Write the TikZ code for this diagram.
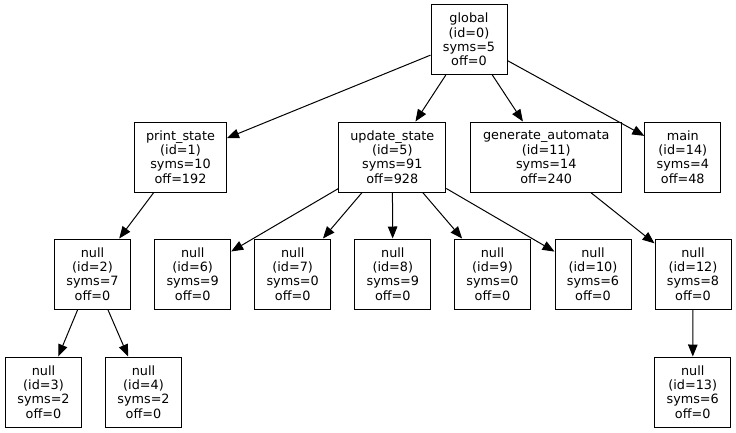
\documentclass[tikz,border=0pt]{standalone}
\usepackage{fontspec}
\setmainfont{DejaVu Sans}
\usetikzlibrary{arrows.meta}

\begin{document}
\begin{tikzpicture}[x=1pt, y=-1pt,
  symbox/.style={draw, line width=1pt, inner sep=0pt, minimum width=76pt,
    minimum height=70pt, align=center, font=\fontsize{12.8}{14.4}\selectfont},
  edge/.style={-{Triangle[length=12pt, width=9.5pt]}, line width=1pt}]

  \useasboundingbox (0,0) rectangle (736,432);

  % Global scope
  \node[symbox] (global) at (469,39.5) {global\\(id=0)\\syms=5\\off=0};

  % Function scopes
  \node[symbox, minimum width=92pt] (printstate) at (180.5,157) {print\_state\\(id=1)\\syms=10\\off=192};
  \node[symbox, minimum width=107pt] (updatestate) at (392.3,157) {update\_state\\(id=5)\\syms=91\\off=928};
  \node[symbox, minimum width=151pt] (genauto) at (546.2,157) {generate\_automata\\(id=11)\\syms=14\\off=240};
  \node[symbox] (main) at (682.8,157) {main\\(id=14)\\syms=4\\off=48};

  % Block scopes
  \node[symbox] (null2) at (92.5,274) {null\\(id=2)\\syms=7\\off=0};
  \node[symbox] (null6) at (192.7,274) {null\\(id=6)\\syms=9\\off=0};
  \node[symbox] (null7) at (292.7,274) {null\\(id=7)\\syms=0\\off=0};
  \node[symbox] (null8) at (392.8,274) {null\\(id=8)\\syms=9\\off=0};
  \node[symbox] (null9) at (492.5,274) {null\\(id=9)\\syms=0\\off=0};
  \node[symbox] (null10) at (593,274) {null\\(id=10)\\syms=6\\off=0};
  \node[symbox] (null12) at (693,274) {null\\(id=12)\\syms=8\\off=0};

  % Nested block scopes
  \node[symbox] (null3) at (43.5,392) {null\\(id=3)\\syms=2\\off=0};
  \node[symbox] (null4) at (143.5,392) {null\\(id=4)\\syms=2\\off=0};
  \node[symbox] (null13) at (692.7,392) {null\\(id=13)\\syms=6\\off=0};

  % Edges from global
  \foreach \c in {printstate, updatestate, genauto, main}
    \draw[edge] (global) -- (\c);

  % Edges from update_state
  \foreach \c in {null6, null7, null8, null9, null10}
    \draw[edge] (updatestate) -- (\c);

  % Remaining edges
  \draw[edge] (printstate) -- (null2);
  \draw[edge] (null2) -- (null3);
  \draw[edge] (null2) -- (null4);
  \draw[edge] (genauto) -- (null12);
  \draw[edge] (null12) -- (null13);

\end{tikzpicture}
\end{document}
